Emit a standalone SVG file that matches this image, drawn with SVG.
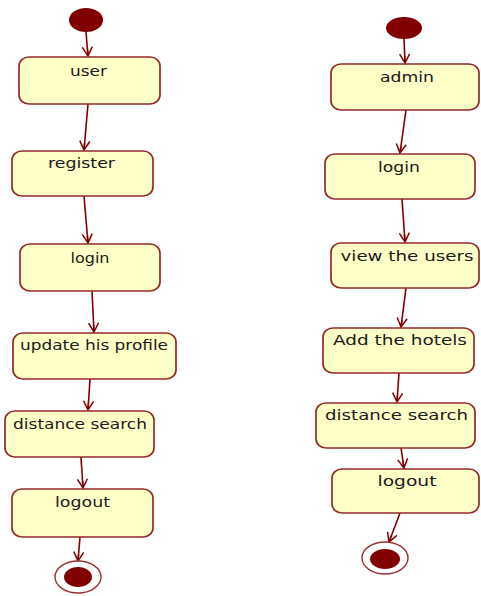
<svg xmlns="http://www.w3.org/2000/svg" width="481" height="596" viewBox="0 0 481 596">
<style>
.box{fill:#FFFFC8;stroke:#952828;stroke-width:1.7}
.lbl{font-family:"DejaVu Sans",Verdana,sans-serif;font-size:14px;fill:#1a1a1a;text-anchor:middle}
.edge{stroke:#800000;stroke-width:1.6;fill:none;marker-end:url(#arr)}
.start{fill:#800000}
.endo{fill:#fff;stroke:#9B3030;stroke-width:1.4}
.endi{fill:#800000}
</style>
<defs>
<marker id="arr" markerWidth="12" markerHeight="12" viewBox="0 0 12 12" refX="10" refY="6" orient="auto" markerUnits="userSpaceOnUse">
<path d="M1,1 L10,6 L1,11 M3,6 L10,6" fill="none" stroke="#800000" stroke-width="1.5"/>
</marker>
</defs>
<rect width="481" height="596" fill="#fff"/>
<g id="edges">
<line class="edge" x1="86" y1="32" x2="88" y2="56"/>
<line class="edge" x1="88" y1="104" x2="84" y2="150"/>
<line class="edge" x1="84" y1="196" x2="88" y2="243"/>
<line class="edge" x1="92" y1="291" x2="94" y2="332"/>
<line class="edge" x1="90" y1="379" x2="88" y2="410"/>
<line class="edge" x1="81" y1="457" x2="83" y2="488"/>
<line class="edge" x1="80" y1="537" x2="78" y2="561"/>
<line class="edge" x1="404" y1="39" x2="405" y2="63"/>
<line class="edge" x1="406" y1="110" x2="400" y2="153"/>
<line class="edge" x1="402" y1="199" x2="405" y2="242"/>
<line class="edge" x1="406" y1="288" x2="401" y2="327"/>
<line class="edge" x1="399" y1="373" x2="397" y2="402"/>
<line class="edge" x1="401" y1="448" x2="404" y2="468"/>
<line class="edge" x1="400" y1="513" x2="389" y2="542"/>
</g>
<g id="start-left"><ellipse class="start" cx="86" cy="20" rx="17" ry="12"/></g>
<g id="user"><rect class="box" x="19" y="57" width="141" height="47" rx="10" ry="9"/><text class="lbl" x="88.5" y="76" textLength="37" lengthAdjust="spacingAndGlyphs">user</text></g>
<g id="register"><rect class="box" x="12" y="151" width="141" height="45" rx="10" ry="9"/><text class="lbl" x="81.5" y="168" textLength="67" lengthAdjust="spacingAndGlyphs">register</text></g>
<g id="login-left"><rect class="box" x="20" y="244" width="140" height="47" rx="10" ry="9"/><text class="lbl" x="90" y="263" textLength="39" lengthAdjust="spacingAndGlyphs">login</text></g>
<g id="update-profile"><rect class="box" x="13" y="333" width="163" height="46" rx="10" ry="9"/><text class="lbl" x="94" y="350" textLength="148" lengthAdjust="spacingAndGlyphs">update his profile</text></g>
<g id="distance-left"><rect class="box" x="5" y="411" width="149" height="46" rx="10" ry="9"/><text class="lbl" x="80" y="429" textLength="134" lengthAdjust="spacingAndGlyphs">distance search</text></g>
<g id="logout-left"><rect class="box" x="12" y="489" width="141" height="48" rx="10" ry="9"/><text class="lbl" x="82.5" y="507" textLength="55" lengthAdjust="spacingAndGlyphs">logout</text></g>
<g id="end-left"><ellipse class="endo" cx="78" cy="577" rx="23" ry="16"/><ellipse class="endi" cx="78" cy="577" rx="14" ry="10"/></g>
<g id="start-right"><ellipse class="start" cx="404" cy="28" rx="18" ry="11"/></g>
<g id="admin"><rect class="box" x="331" y="64" width="148" height="46" rx="10" ry="9"/><text class="lbl" x="407" y="82" textLength="54" lengthAdjust="spacingAndGlyphs">admin</text></g>
<g id="login-right"><rect class="box" x="325" y="154" width="150" height="45" rx="10" ry="9"/><text class="lbl" x="399" y="172" textLength="42" lengthAdjust="spacingAndGlyphs">login</text></g>
<g id="view-users"><rect class="box" x="331" y="243" width="148" height="45" rx="10" ry="9"/><text class="lbl" x="407" y="261" textLength="133" lengthAdjust="spacingAndGlyphs">view the users</text></g>
<g id="add-hotels"><rect class="box" x="323" y="328" width="151" height="45" rx="10" ry="9"/><text class="lbl" x="400" y="345" textLength="134" lengthAdjust="spacingAndGlyphs">Add the hotels</text></g>
<g id="distance-right"><rect class="box" x="316" y="403" width="159" height="45" rx="10" ry="9"/><text class="lbl" x="396.5" y="420" textLength="143" lengthAdjust="spacingAndGlyphs">distance search</text></g>
<g id="logout-right"><rect class="box" x="332" y="469" width="147" height="44" rx="10" ry="9"/><text class="lbl" x="407" y="486" textLength="59" lengthAdjust="spacingAndGlyphs">logout</text></g>
<g id="end-right"><ellipse class="endo" cx="385" cy="558" rx="23" ry="16"/><ellipse class="endi" cx="385" cy="559" rx="15" ry="10"/></g>
</svg>
